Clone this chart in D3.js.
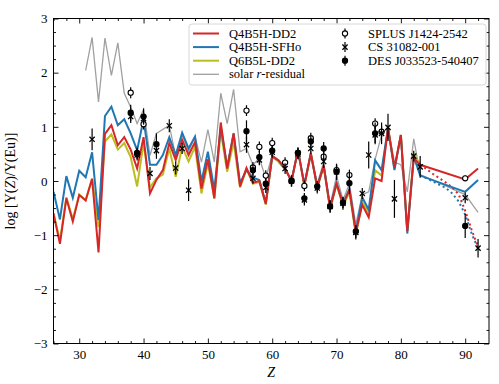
<!DOCTYPE html>
<html>
<head>
<meta charset="utf-8">
<script src="https://cdn.jsdelivr.net/npm/d3@7"></script>
<style>
  body { margin: 0; background: #fff; }
  svg text { font-family: "Liberation Serif", "DejaVu Serif", serif; }
</style>
</head>
<body>
<div id="chart"></div>
<script>
// model abundances, log Y(Z)/Y(Eu)
const modelZ = [26,27,28,29,30,31,32,33,34,35,36,37,38,39,40,41,42,43,44,45,46,47,48,49,50,
  51,52,53,54,55,56,57,58,59,60,61,62,63,64,65,66,67,68,69,70,71,72,73,74,75,76,77,78,79,80,
  81,82,83,90,92];
const q4b5hDD2 = [-0.6,-1.16,-0.32,-0.75,-0.26,-0.36,0.04,-1.32,0.87,1.03,0.66,0.81,0.58,0.23,0.81,
  -0.23,0.02,0.2,0.7,0.39,0.76,0.48,0.72,-0.14,0.4,-0.32,1.08,0.23,0.88,-0.1,0.24,-0.03,0.0,-0.42,0.46,
  0.38,0.23,0.0,0.57,-0.08,0.51,-0.11,0.28,-0.5,-0.05,-0.43,-0.17,-0.95,-0.44,-0.67,0.05,0.0,0.98,0.25,0.85,
  -0.92,0.42,0.3,0.03,0.23];
const q4b5hSFHo = [-0.2,-0.71,0.09,-0.31,0.19,0.07,0.53,-0.72,1.2,1.37,1.03,1.14,0.88,0.57,1.14,
  0.3,0.3,0.48,0.81,0.48,0.89,0.6,0.82,-0.01,0.54,-0.17,1.0,0.26,0.88,-0.04,0.2,0.06,0.02,-0.4,0.46,
  0.38,0.23,0.0,0.57,-0.06,0.5,-0.1,0.28,-0.48,-0.03,-0.42,-0.15,-0.93,-0.3,-0.53,0.38,0.2,0.98,0.2,0.85,
  -0.97,0.45,0.1,-0.2,0.02];
// Q6B5L-DD2 stops at Bi
const q6b5lZ = modelZ.slice(0, 58);
const q6b5lDD2 = [-0.6,-1.1,-0.3,-0.7,-0.25,-0.35,0.04,-0.85,0.73,0.86,0.58,0.7,0.44,-0.1,0.7,
  -0.12,0.05,0.12,0.6,0.08,0.63,0.36,0.63,-0.23,0.33,-0.32,0.91,0.17,0.72,-0.12,0.22,-0.05,-0.02,-0.44,0.44,
  0.36,0.22,0.0,0.56,-0.1,0.5,-0.13,0.27,-0.53,-0.06,-0.47,-0.2,-1.0,-0.38,-0.6,0.2,0.1,0.98,0.22,0.85,
  -0.92,0.5,0.3];

// dotted actinide tails
const tailZ = [83,84,85,86,87,88,89,90,91,92];
const tailDD2 = [0.3,0.22,0.13,0.05,-0.03,-0.12,-0.25,-0.55,-0.9,-1.22];
const tailSFHo = [0.1,0.05,-0.01,-0.07,-0.13,-0.23,-0.38,-0.62,-0.97,-1.25];

const solarZ = [31,32,33,34,35,36,37,38,39,40,41,42,44,45,46,47,48,49,50,51,52,53,54,55,56,57,58,59,60,
  62,63,64,65,66,67,68,69,70,71,72,73,74,75,76,77,78,79,80,81,82,83,90,92];
const solarR = [2.04,2.65,1.46,2.64,1.95,2.55,1.62,1.36,1.06,1.32,0.47,0.88,1.03,0.45,0.85,0.55,0.82,0.35,
  0.95,0.35,1.62,1.06,1.69,0.54,0.6,0.3,0.42,0.05,0.48,0.2,0.0,0.55,-0.05,0.55,-0.05,0.35,-0.45,0.1,-0.35,
  -0.05,-0.8,-0.25,-0.2,0.4,0.85,1.0,0.35,0.3,-0.2,0.78,0.12,-0.25,-0.58];

// observed stars
const splusZ = [38,39,40,56,57,58,59,60,62,63,64,65,66,68,70,72,76,77,90];
const splusVal = [1.63,0.5,1.05,1.3,0.25,0.63,0.1,0.7,0.34,0.0,0.52,-0.09,0.79,0.45,0.2,0.11,1.06,0.91,0.05];
const splusErr = [0.1,0.1,0.1,0.1,0.1,0.1,0.1,0.1,0.1,0.1,0.1,0.1,0.1,0.1,0.1,0.1,0.1,0.1,0.05];

const csZ = [32,38,39,40,41,42,44,45,46,47,56,57,58,59,60,62,63,64,65,66,67,68,69,70,71,73,74,75,76,77,78,79,82,83,90,92];
const csVal = [0.77,1.19,0.48,1.15,0.14,0.56,1.02,0.24,0.6,-0.17,0.67,0.05,0.39,-0.12,0.53,0.23,0.0,0.5,-0.35,
  0.6,-0.13,0.36,-0.47,0.17,-0.41,-0.95,-0.23,0.48,0.85,0.88,0.99,-0.33,0.46,0.26,-0.31,-1.24];
const csErr = [0.2,0.12,0.1,0.1,0.12,0.15,0.12,0.12,0.1,0.2,0.15,0.1,0.1,0.1,0.1,0.1,0.1,0.1,0.1,
  0.1,0.1,0.12,0.12,0.15,0.12,0.13,0.1,0.25,0.15,0.2,0.25,0.35,0.1,0.2,0.1,0.17];

const desZ = [38,39,40,42,56,57,58,59,60,63,64,65,66,67,68,69,70,71,72,73,76,90];
const desVal = [1.26,0.52,1.19,0.68,0.92,0.2,0.44,-0.05,0.56,0.0,0.52,-0.32,0.73,-0.1,0.6,-0.47,0.17,-0.4,-0.04,-0.93,0.88,-0.83];
const desErr = [0.15,0.1,0.15,0.2,0.2,0.1,0.12,0.1,0.1,0.1,0.1,0.1,0.1,0.1,0.12,0.1,0.12,0.1,0.2,0.12,0.2,0.22];

const yTicks = [-3,-2,-1,0,1,2,3];
const xTicks = [30,40,50,60,70,80,90];

const margin = {top: 18.5, right: 10, bottom: 40.5, left: 53.5};
const width = 499 - margin.left - margin.right;
const height = 384 - margin.top - margin.bottom;

const svg = d3.select("#chart")
  .append("svg")
    .attr("width", 499)
    .attr("height", 384)
  .append("g")
    .attr("transform", `translate(${margin.left},${margin.top})`);

const x = d3.scaleLinear().domain([26, 93.7]).range([0, width]);
const y = d3.scaleLinear().domain([-3, 3]).range([height, 0]);

// clip so lines stay inside frame
svg.append("clipPath").attr("id", "clip")
  .append("rect").attr("width", width).attr("height", height);
const plot = svg.append("g").attr("clip-path", "url(#clip)");

const line = d3.line().x(d => x(d[0])).y(d => y(d[1]));
const zip = (a, b) => a.map((v, i) => [v, b[i]]);

plot.append("path").datum(zip(solarZ, solarR))
  .attr("fill", "none").attr("stroke", "#a0a0a0").attr("stroke-width", 1.3).attr("d", line);

const colRed = "#d62728", colBlue = "#1f77b4", colYel = "#bcbd22";

plot.append("path").datum(zip(tailZ, tailSFHo))
  .attr("fill", "none").attr("stroke", colBlue).attr("stroke-width", 2)
  .attr("stroke-dasharray", "2,3").attr("d", line);
plot.append("path").datum(zip(tailZ, tailDD2))
  .attr("fill", "none").attr("stroke", colRed).attr("stroke-width", 2)
  .attr("stroke-dasharray", "2,3").attr("d", line);

plot.append("path").datum(zip(q6b5lZ, q6b5lDD2))
  .attr("fill", "none").attr("stroke", colYel).attr("stroke-width", 2).attr("d", line);
plot.append("path").datum(zip(modelZ, q4b5hSFHo))
  .attr("fill", "none").attr("stroke", colBlue).attr("stroke-width", 2).attr("d", line);
plot.append("path").datum(zip(modelZ, q4b5hDD2))
  .attr("fill", "none").attr("stroke", colRed).attr("stroke-width", 2).attr("d", line);

// error bars + markers
function drawStar(zs, vals, errs, kind) {
  const g = svg.append("g");
  const data = zs.map((z, i) => ({z: z, v: vals[i], e: errs[i]}));
  g.selectAll("line.err").data(data).join("line")
    .attr("x1", d => x(d.z)).attr("x2", d => x(d.z))
    .attr("y1", d => y(d.v - d.e)).attr("y2", d => y(d.v + d.e))
    .attr("stroke", "black").attr("stroke-width", 1.2);
  if (kind === "x") {
    g.selectAll("path.mk").data(data).join("path")
      .attr("d", d => {
        const cx = x(d.z), cy = y(d.v), s = 2.6;
        return `M${cx-s},${cy-s}L${cx+s},${cy+s}M${cx-s},${cy+s}L${cx+s},${cy-s}`;
      })
      .attr("stroke", "black").attr("stroke-width", 1.3);
  } else {
    g.selectAll("circle").data(data).join("circle")
      .attr("cx", d => x(d.z)).attr("cy", d => y(d.v)).attr("r", 2.6)
      .attr("fill", kind === "open" ? "white" : "black")
      .attr("stroke", "black").attr("stroke-width", 1.1);
  }
}
drawStar(splusZ, splusVal, splusErr, "open");
drawStar(csZ, csVal, csErr, "x");
drawStar(desZ, desVal, desErr, "filled");

// axes, ticks pointing in on all four sides
const xMinor = d3.range(26, 94, 2).filter(v => v % 10 !== 0);
const yMinor = d3.range(-3, 3.01, 0.25).filter(v => Math.abs(v - Math.round(v)) > 1e-6);

function styleAxis(g) {
  g.select(".domain").remove();
  g.selectAll("line").attr("stroke", "black").attr("stroke-width", 0.9);
  g.selectAll("text").style("font-size", "13px").attr("fill", "black");
}
svg.append("g").attr("transform", `translate(0,${height})`)
  .call(d3.axisBottom(x).tickValues(xTicks).tickSize(-5).tickPadding(6).tickFormat(d3.format("d"))).call(styleAxis);
svg.append("g").attr("transform", `translate(0,${height})`)
  .call(d3.axisBottom(x).tickValues(xMinor).tickSize(-2.5).tickFormat("")).call(styleAxis);
svg.append("g")
  .call(d3.axisTop(x).tickValues(xTicks).tickSize(-5).tickFormat("")).call(styleAxis);
svg.append("g")
  .call(d3.axisTop(x).tickValues(xMinor).tickSize(-2.5).tickFormat("")).call(styleAxis);
svg.append("g")
  .call(d3.axisLeft(y).tickValues(yTicks).tickSize(-5).tickPadding(6).tickFormat(d => d < 0 ? "\u2212" + Math.abs(d) : d)).call(styleAxis);
svg.append("g")
  .call(d3.axisLeft(y).tickValues(yMinor).tickSize(-2.5).tickFormat("")).call(styleAxis);
svg.append("g").attr("transform", `translate(${width},0)`)
  .call(d3.axisRight(y).tickValues(yTicks).tickSize(-5).tickFormat("")).call(styleAxis);
svg.append("g").attr("transform", `translate(${width},0)`)
  .call(d3.axisRight(y).tickValues(yMinor).tickSize(-2.5).tickFormat("")).call(styleAxis);

svg.append("rect").attr("width", width).attr("height", height)
  .attr("fill", "none").attr("stroke", "black").attr("stroke-width", 1);

// axis labels
svg.append("text")
  .attr("x", width / 2).attr("y", height + 33)
  .attr("text-anchor", "middle").style("font-size", "14px").style("font-style", "italic")
  .text("Z");
const yl = svg.append("text")
  .attr("transform", `translate(${-39},${height / 2}) rotate(-90)`)
  .attr("text-anchor", "middle").style("font-size", "14px");
yl.append("tspan").text("log [Y(");
yl.append("tspan").style("font-style", "italic").text("Z");
yl.append("tspan").text(")/Y(Eu)]");

// legend
const leg = svg.append("g").attr("transform", `translate(${189 - margin.left},${24 - margin.top})`);
leg.append("rect").attr("width", 297).attr("height", 61).attr("rx", 3)
  .attr("fill", "white").attr("fill-opacity", 0.85).attr("stroke", "#d8d8d8");
const lineItems = [
  {label: "Q4B5H-DD2", color: colRed, w: 2},
  {label: "Q4B5H-SFHo", color: colBlue, w: 2},
  {label: "Q6B5L-DD2", color: colYel, w: 2},
  {label: "solar r-residual", color: "#a0a0a0", w: 1.3}
];
lineItems.forEach((it, i) => {
  const yy = 9.5 + i * 13.6;
  leg.append("line").attr("x1", 4).attr("x2", 30).attr("y1", yy).attr("y2", yy)
    .attr("stroke", it.color).attr("stroke-width", it.w);
  const t = leg.append("text").attr("x", 40).attr("y", yy + 4).style("font-size", "12.5px");
  if (it.label.startsWith("solar")) {
    t.append("tspan").text("solar ");
    t.append("tspan").style("font-style", "italic").text("r");
    t.append("tspan").text("-residual");
  } else {
    t.text(it.label);
  }
});
const starItems = [
  {label: "SPLUS J1424-2542", kind: "open"},
  {label: "CS 31082-001", kind: "x"},
  {label: "DES J033523-540407", kind: "filled"}
];
starItems.forEach((it, i) => {
  const yy = 9.5 + i * 13.6, cx = 156;
  leg.append("line").attr("x1", cx).attr("x2", cx).attr("y1", yy - 5).attr("y2", yy + 5)
    .attr("stroke", "black").attr("stroke-width", 1.2);
  if (it.kind === "x") {
    leg.append("path").attr("d", `M${cx-2.6},${yy-2.6}L${cx+2.6},${yy+2.6}M${cx-2.6},${yy+2.6}L${cx+2.6},${yy-2.6}`)
      .attr("stroke", "black").attr("stroke-width", 1.3);
  } else {
    leg.append("circle").attr("cx", cx).attr("cy", yy).attr("r", 2.6)
      .attr("fill", it.kind === "open" ? "white" : "black").attr("stroke", "black").attr("stroke-width", 1.1);
  }
  leg.append("text").attr("x", 179).attr("y", yy + 4).style("font-size", "12.5px").text(it.label);
});
</script>
</body>
</html>
